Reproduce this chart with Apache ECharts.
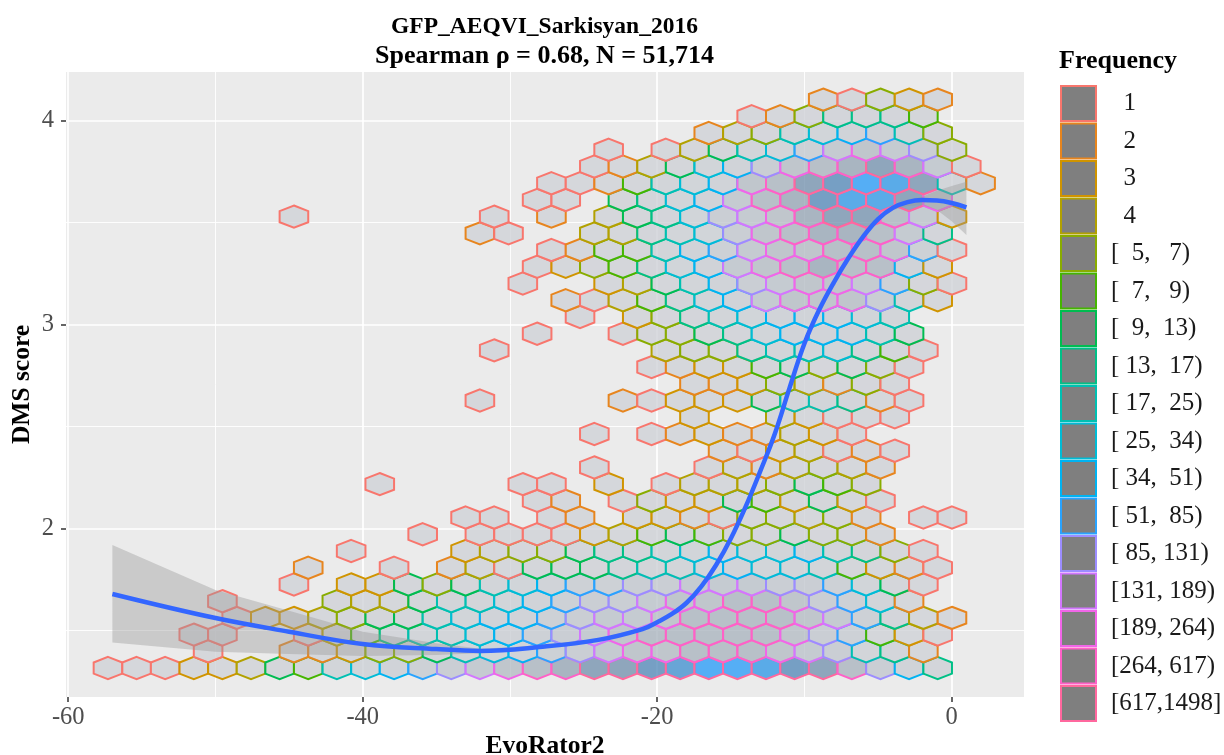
<!DOCTYPE html>
<html><head><meta charset="utf-8">
<style>html,body{margin:0;padding:0;background:#fff}#c{width:1224px;height:755px}</style>
<script src="https://cdn.jsdelivr.net/npm/echarts@6/dist/echarts.min.js"></script>
</head><body><div id="c"></div>
<script>
const legendLabels = ["  1","  2","  3","  4","[  5,   7)","[  7,   9)","[  9,  13)","[ 13,  17)","[ 17,  25)","[ 25,  34)","[ 34,  51)","[ 51,  85)","[ 85, 131)","[131, 189)","[189, 264)","[264, 617)","[617,1498]"];
const binColors = ["#F8766D","#E7851E","#D09400","#B2A100","#89AC00","#45B500","#00BC51","#00C087","#00C0B2","#00BCD6","#00B3F2","#29A3FF","#9C8DFF","#D277FF","#F166E8","#FF61C7","#FF689E"];
const binFloors = [1,2,3,4,5,7,9,13,17,25,34,51,85,131,189,264,617];
const codeCounts = {a:1,b:2,c:3,d:4,e:6,f:8,g:11,h:15,i:21,j:29,k:42,l:68,m:108,n:160,o:226,p:320,q:480,r:700,s:900,t:1100,u:1300,v:1498};
const rowStart = [0,7,6,9,8,13,14,17,22,25,30,19,34,43,34,41,26,41,38,27,30,33,32,29,30,31,26,13,30,31,34,35,42,45,50];
const rowCodes = [
"aaaccdgfijklmnopqrrstvvusrpmkh","a..bbceegijklmnooppponmihb","aa..adfhiijklmnopppppomlfca","accdeggijkklmnnoppppon"+"lhdb","a...eddgiijklmmnoopp"+"omljb",
"a.ccgegijkllmmnnnmmljga","b..a.bdaggghiijkjjifcba","a...cdeeghhijkjjkihea","a.aaaacdfgfeegeeb","aa.ab.ccbaeedeb.aa",
"ab.aeccgfcgca","a....aa.c.adddegfe","a...adbdedb","bacdaba","a.abcbbdca",
"c..dcaaa","a....bacccgiihba","bbcedbea","abccfgegea","a.....deehiijhfa",
"a..aeeghjkkkig","a.cehijkkkji","badfhjknooomic","a..cdgikmnoonlea","acefhjknopqppkc",
"abffiklnooppola","ba..ddhijmopqqpnh","a......a.b.dghjmnoqrrpnc","aa.ghjknpqsuuro","aabfijkoprsvurib",
"abdgjkmopqrqna","a.adgijlnonme","bdeijklie","abehhhf","baecb"];
const smoothX = [-57,-50,-45,-40,-35,-32,-28,-24,-21,-20,-19,-18,-17,-16,-15,-14,-13,-12,-11,-10,-9,-8,-7,-6,-5,-4,-3,-2,-1,0,1];
const smoothY = [1.678,1.56,1.493,1.433,1.408,1.399,1.418,1.453,1.506,1.54,1.58,1.635,1.715,1.82,1.95,2.105,2.28,2.466,2.691,2.906,3.071,3.206,3.326,3.431,3.516,3.571,3.599,3.609,3.607,3.595,3.573];
const ribbonUpper = [1.918,1.698,1.596,1.493,1.437,1.41,1.425,1.46,1.512,1.548,1.588,1.643,1.72,1.825,1.955,2.11,2.285,2.471,2.696,2.911,3.076,3.211,3.331,3.437,3.523,3.581,3.612,3.626,3.655,3.678,3.699];
const ribbonLower = [1.44,1.395,1.384,1.374,1.379,1.388,1.41,1.446,1.50,1.532,1.572,1.627,1.71,1.815,1.945,2.10,2.275,2.461,2.686,2.901,3.066,3.201,3.321,3.425,3.509,3.561,3.58,3.585,3.56,3.505,3.438];
const xMajor = [-60,-40,-20,0], xMinor = [-50,-30,-10], yMajor = [2,3,4], yMinor = [1.5,2.5,3.5];
const hexOriginX = -57.3, hexHalfW = 0.9715, hexOriginY = 1.315, hexRowH = 0.08196;
const fillCounts = [1,42,226,480,700,900,1100,1300,1498];
const fillRed    = [213,208,192,169,143,118,104,90,85];
const fillGreen  = [215,211,198,181,166,159,165,171,174];
const fillBlue   = [219,216,204,193,188,196,214,232,245];

const hexData = [];
rowCodes.forEach((s, r) => {
  for (let i = 0; i < s.length; i++) {
    if (s[i] === '.') continue;
    hexData.push([hexOriginX + (rowStart[r] + 2 * i) * hexHalfW, hexOriginY + r * hexRowH, codeCounts[s[i]]]);
  }
});
function binOf(n){ let b = 0; binFloors.forEach((f,i)=>{ if(n>=f) b=i; }); return b; }
function fillOf(n){
  let k = 0; while (k < fillCounts.length-2 && n > fillCounts[k+1]) k++;
  const t = (n-fillCounts[k])/(fillCounts[k+1]-fillCounts[k]);
  const c = [fillRed,fillGreen,fillBlue].map(a=>{
    const target = a[k]+(a[k+1]-a[k])*t;
    return Math.round((target-235*0.2)/0.8);
  });
  return `rgba(${c[0]},${c[1]},${c[2]},0.8)`;
}
const serif = '"Liberation Serif","Times New Roman",serif';
const hidden = {axisLine:{show:false,onZero:false},axisTick:{show:false},axisLabel:{show:false}};
const chart = echarts.init(document.getElementById('c'),null,{renderer:'canvas'});
chart.setOption({
  animation:false,
  backgroundColor:'#fff',
  title:[
    {text:'GFP_AEQVI_Sarkisyan_2016',left:544.5,top:15,padding:0,textAlign:'center',
     textStyle:{fontFamily:serif,fontWeight:'bold',fontSize:23.5,color:'#000'}},
    {text:'Spearman ρ = 0.68, N = 51,714',left:544.5,top:43,padding:0,textAlign:'center',
     textStyle:{fontFamily:serif,fontWeight:'bold',fontSize:26,color:'#000'}},
    {text:'Frequency',left:1059,top:48,padding:0,textStyle:{fontFamily:serif,fontWeight:'bold',fontSize:26,color:'#000'}}
  ],
  grid:{left:66,right:200,top:72,bottom:58,show:true,backgroundColor:'#EBEBEB',borderWidth:0,outerBoundsMode:'none',containLabel:false},
  xAxis:[
    {type:'value',min:-60.15,max:4.91,name:'EvoRator2',nameLocation:'middle',nameGap:49,nameMoveOverlap:false,
     nameTextStyle:{fontFamily:serif,fontWeight:'bold',fontSize:25.5,color:'#000',verticalAlign:'middle'},
     axisLine:{show:false,onZero:false},axisTick:{show:true,length:5,customValues:xMajor,lineStyle:{color:'#333',width:1.5}},
     axisLabel:{customValues:xMajor,fontFamily:serif,fontSize:24.5,color:'#4D4D4D',margin:8,formatter:v=>String(v)},
     splitLine:{show:true,lineStyle:{color:'#fff',width:1.7}}},
    {type:'value',min:-60.15,max:4.91,...hidden,axisTick:{show:false,customValues:xMinor},axisLabel:{show:false,customValues:xMinor},
     splitLine:{show:true,lineStyle:{color:'#fff',width:0.9}}}
  ],
  yAxis:[
    {type:'value',min:1.173,max:4.237,name:'DMS score',nameLocation:'middle',nameGap:44,nameRotate:90,nameMoveOverlap:false,
     nameTextStyle:{fontFamily:serif,fontWeight:'bold',fontSize:25.5,color:'#000',verticalAlign:'middle'},
     axisLine:{show:false,onZero:false},axisTick:{show:true,length:5,customValues:yMajor,lineStyle:{color:'#333',width:1.5}},
     axisLabel:{customValues:yMajor,fontFamily:serif,fontSize:24.5,color:'#4D4D4D',margin:12,formatter:v=>String(v)},
     splitLine:{show:true,lineStyle:{color:'#fff',width:1.7}}},
    {type:'value',min:1.173,max:4.237,...hidden,axisTick:{show:false,customValues:yMinor},axisLabel:{show:false,customValues:yMinor},
     splitLine:{show:true,lineStyle:{color:'#fff',width:0.9}}}
  ],
  legend:{orient:'vertical',left:1060,top:85,icon:'rect',itemWidth:35,itemHeight:35,itemGap:0.5,
    selectedMode:false,padding:0,
    textStyle:{fontFamily:serif,fontSize:25,color:'#1a1a1a',padding:[0,0,0,10]},
    data:legendLabels.map((n,i)=>({name:n,itemStyle:{color:'#7F7F7F',borderColor:binColors[i],borderWidth:2,opacity:1},icon:'rect'}))},
  series:[
    ...legendLabels.map((n,i)=>({type:'scatter',name:n,data:[],itemStyle:{color:'#7F7F7F',borderColor:binColors[i],opacity:1}})),
    {type:'custom',name:'hex',coordinateSystem:'cartesian2d',data:hexData,z:3,silent:true,clip:true,
     renderItem:(p,api)=>{
       const x=api.value(0),y=api.value(1),n=api.value(2);
       const dy=hexRowH*2/3;
       const pts=[[x,y+dy],[x+hexHalfW,y+dy/2],[x+hexHalfW,y-dy/2],[x,y-dy],[x-hexHalfW,y-dy/2],[x-hexHalfW,y+dy/2]].map(q=>api.coord(q));
       return {type:'polygon',shape:{points:pts},style:{fill:fillOf(n),stroke:binColors[binOf(n)],lineWidth:2,lineJoin:'miter'}};
     }},
    {type:'custom',name:'ribbon',coordinateSystem:'cartesian2d',data:[[0]],z:4,silent:true,
     renderItem:(p,api)=>{
       const pts=smoothX.map((x,i)=>api.coord([x,ribbonUpper[i]])).concat(smoothX.map((x,i)=>api.coord([x,ribbonLower[i]])).reverse());
       return {type:'polygon',shape:{points:pts},style:{fill:'rgba(153,153,153,0.4)'}};
     }},
    {type:'line',name:'smooth',data:smoothX.map((x,i)=>[x,smoothY[i]]),showSymbol:false,smooth:0.4,z:5,silent:true,
     lineStyle:{color:'#3366FF',width:4.5}}
  ]
});
</script></body></html>
